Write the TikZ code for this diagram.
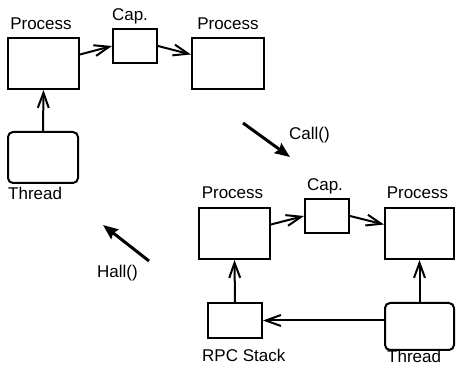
\documentclass[tikz,border=0pt]{standalone}
\usepackage{fontspec}
\setmainfont{Liberation Sans}
\usetikzlibrary{arrows.meta,calc}
\begin{document}
\begin{tikzpicture}[x=1pt,y=-1pt,
  box/.style={draw,line width=2pt,inner sep=0pt,minimum width=#1},
  box/.default=70pt,
  thr/.style={box=#1,rounded corners=5pt},
  lbl/.style={inner sep=0pt,anchor=base,font=\fontsize{17}{20}\selectfont},
  link/.style={line width=2pt,-{Straight Barb[length=15pt,width=11pt,line width=2pt]}},
  move/.style={line width=3pt,-{Stealth[length=15pt,width=12pt,inset=2pt]}}]
\useasboundingbox (0,0) rectangle (456,366);

% upper configuration
\node[box=71pt,minimum height=51pt] (p1) at (43.5,63.5) {};
\node[box=44pt,minimum height=34pt] (c1) at (135,46) {};
\node[box=72pt,minimum height=51pt] (p2) at (228,63.5) {};
\node[thr=70pt,minimum height=51pt] (t1) at (43,157.5) {};
\node[lbl] (p1l) at (41,30) {Process};
\node[lbl] (c1l) at (130,21) {Cap.};
\node[lbl] (p2l) at (228,30) {Process};
\node[lbl,anchor=base west] (t1l) at (8,200) {Thread};
\draw[link] (t1.north) -- (p1.south);
\draw[link] ($(p1.north east)!0.33!(p1.south east)$) -- (c1.west);
\draw[link] (c1.east) -- ($(p2.north west)!0.33!(p2.south west)$);

% transitions
\coordinate (ca) at (243,123);
\coordinate (cb) at (290,157);
\draw[move] (ca) -- (cb);
\node[lbl,anchor=base west] (cl) at (289,140) {Call()};
\coordinate (ha) at (149,261);
\coordinate (hb) at (103,225);
\draw[move] (ha) -- (hb);
\node[lbl,anchor=base west] (hl) at (97,278) {Hall()};

% lower configuration
\node[box=71pt,minimum height=51pt] (p3) at (234.5,233.5) {};
\node[box=44pt,minimum height=34pt] (c2) at (327,216) {};
\node[box=69pt,minimum height=51pt] (p4) at (419.5,233.5) {};
\node[box=54pt,minimum height=35pt] (rs) at (235,320.5) {};
\node[thr=69pt,minimum height=47pt] (t2) at (419.5,326.5) {};
\node[lbl] (p3l) at (232.5,199) {Process};
\node[lbl] (c2l) at (325,191) {Cap.};
\node[lbl] (p4l) at (417.5,199) {Process};
\node[lbl,anchor=base west] (rsl) at (202,362) {RPC Stack};
\node[lbl,anchor=base west] (t2l) at (387,363) {Thread};
\draw[link] (rs.north) -- (p3.south);
\draw[link] (t2.north) -- (p4.south);
\draw[link] (t2.west |- rs.east) -- (rs.east);
\draw[link] ($(p3.north east)!0.33!(p3.south east)$) -- (c2.west);
\draw[link] (c2.east) -- ($(p4.north west)!0.33!(p4.south west)$);
\end{tikzpicture}
\end{document}
